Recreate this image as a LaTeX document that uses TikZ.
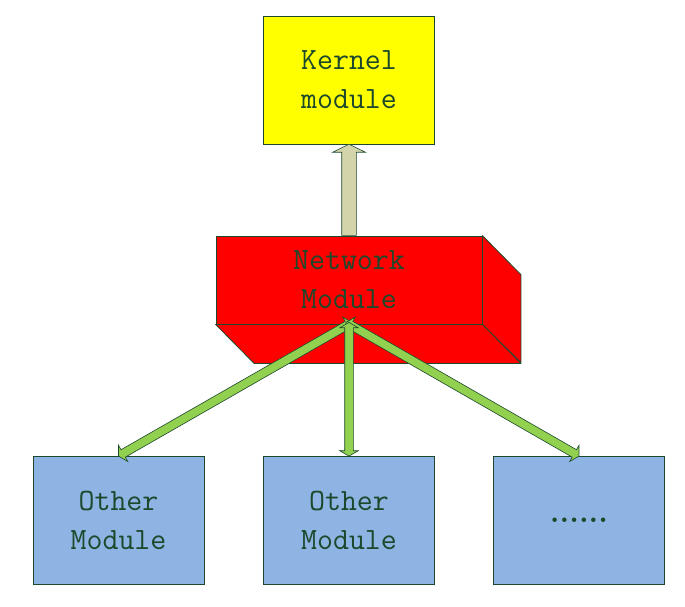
\documentclass[tikz,border=0pt]{standalone}
\usepackage{fontspec}
\usepackage{tikz}
\usetikzlibrary{shapes.arrows,calc,positioning}
\definecolor{lineC}{RGB}{28,72,44}
\definecolor{kernC}{RGB}{255,255,0}
\definecolor{netC}{RGB}{255,0,0}
\definecolor{modC}{RGB}{142,180,227}
\definecolor{upC}{RGB}{211,212,170}
\definecolor{linkC}{RGB}{146,208,80}
\tikzstyle{mS}=[rectangle,draw=lineC,line width=0.8pt,minimum width=171pt,minimum height=128pt,inner sep=0pt,text=lineC,font=\fontsize{31}{39}\selectfont\ttfamily,align=center]
\tikzstyle{fS}=[fill=netC,draw=lineC,line width=0.8pt,line join=round]
\tikzstyle{upA}=[single arrow,draw=lineC,fill=upC,line width=0.6pt,inner xsep=0pt,inner ysep=7pt,single arrow head extend=9pt,single arrow tip angle=127]
\tikzstyle{linkA}=[double arrow,draw=lineC,fill=linkC,line width=0.6pt,inner xsep=0pt,inner ysep=4pt,double arrow head extend=5pt,double arrow tip angle=120]

\begin{document}
\begin{tikzpicture}[x=1pt,y=-1pt]
                \useasboundingbox (0,0) rectangle (685,606);
                \draw (349,80) node[mS,fill=kernC] (kern) {Kernel\\module};
                \draw (349,280) node[mS,fill=netC,minimum width=266pt,minimum height=88pt] (net) {Network\\Module};
                \draw (118.5,520.5) node[mS,fill=modC] (o1) {Other\\Module};
                \draw (349,520.5) node[mS,fill=modC] (o2) {Other\\Module};
                \draw (579,520.5) node[mS,fill=modC,font=\fontsize{31}{39}\selectfont\bfseries] (o3) {......};
                % side and bottom of the box
                \draw[fS] (net.north east) -- ++(38.5,39) -- ++(0,88) -- (net.south east) -- cycle;
                \draw[fS] (net.south west) -- (net.south east) -- ++(38.5,39) -- ($(net.south west)+(38.5,39)$) -- cycle;
                % arrows
                \coordinate (hubL) at ($(net.south)+(3,-2)$);
                \coordinate (hubM) at ($(net.south)+(0,-2)$);
                \coordinate (hubR) at ($(net.south)+(-3,-2)$);
                \path let \p1=($(kern.south)-(net.north)$) in
                    node[upA,anchor=tail,minimum height={veclen(\x1,\y1)},rotate={atan2(\y1,\x1)}] (up) at (net.north) {};
                \path let \p1=($(o1.north)-(hubL)$) in
                    node[linkA,minimum height={veclen(\x1,\y1)},rotate={atan2(\y1,\x1)}] (l1) at ($(hubL)!0.5!(o1.north)$) {};
                \path let \p1=($(o3.north)-(hubR)$) in
                    node[linkA,minimum height={veclen(\x1,\y1)},rotate={atan2(\y1,\x1)}] (l3) at ($(hubR)!0.5!(o3.north)$) {};
                \path let \p1=($(o2.north)-(hubM)$) in
                    node[linkA,minimum height={veclen(\x1,\y1)},rotate={atan2(\y1,\x1)}] (l2) at ($(hubM)!0.5!(o2.north)$) {};
\end{tikzpicture}
\end{document}
